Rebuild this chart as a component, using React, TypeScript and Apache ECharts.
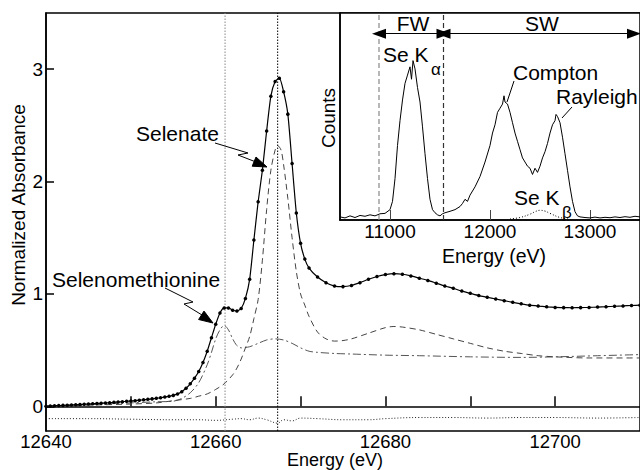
import React, { useEffect, useRef } from "react";
import * as echarts from "echarts";

const FONT = "'Liberation Sans', Arial, Helvetica, sans-serif";

// ---------- Main XANES panel ----------
const MAIN_E = [
  12640, 12640.5, 12641, 12641.5, 12642, 12642.5, 12643, 12643.5, 12644, 12644.5,
  12645, 12645.5, 12646, 12646.5, 12647, 12647.5, 12648, 12648.5, 12649, 12649.5,
  12650, 12650.5, 12651, 12651.5, 12652, 12652.5, 12653, 12653.5, 12654, 12654.5,
  12655, 12655.5, 12656, 12656.5, 12657, 12657.5, 12658, 12658.5, 12659, 12659.5,
  12660, 12660.5, 12661, 12661.5, 12662, 12662.5, 12663, 12663.5, 12664, 12664.5,
  12665, 12665.5, 12666, 12666.5, 12667, 12667.5, 12668, 12668.5, 12669, 12669.5,
  12670, 12670.5, 12671, 12672, 12673, 12674, 12675, 12676, 12677, 12678,
  12679, 12680, 12681, 12682, 12683, 12684, 12685, 12686, 12687, 12688,
  12689, 12690, 12691, 12692, 12693, 12694, 12695, 12696, 12697, 12698,
  12699, 12700, 12701, 12702, 12703, 12704, 12705, 12706, 12707, 12708,
  12709, 12710,
];
const MAIN_MU = [
  0.0, 0.002, 0.004, 0.006, 0.008, 0.01, 0.012, 0.014, 0.016, 0.018,
  0.02, 0.022, 0.025, 0.027, 0.03, 0.032, 0.035, 0.038, 0.041, 0.044,
  0.047, 0.05, 0.054, 0.058, 0.062, 0.066, 0.071, 0.076, 0.082, 0.089,
  0.097, 0.11, 0.13, 0.16, 0.2, 0.25, 0.31, 0.39, 0.49, 0.61,
  0.73, 0.83, 0.875, 0.875, 0.855, 0.848, 0.87, 0.96, 1.13, 1.48,
  1.82, 2.1, 2.45, 2.76, 2.89, 2.92, 2.8, 2.6, 2.16, 1.72,
  1.45, 1.31, 1.23, 1.15, 1.1, 1.07, 1.065, 1.075, 1.1, 1.13,
  1.155, 1.172, 1.18, 1.175, 1.16, 1.14, 1.12, 1.095, 1.07, 1.05,
  1.025, 1.005, 0.985, 0.97, 0.955, 0.94, 0.925, 0.912, 0.9, 0.892,
  0.885, 0.88, 0.878, 0.877, 0.878, 0.88, 0.883, 0.886, 0.89, 0.893,
  0.897, 0.9,
];

const SELENATE_E = [
  12640, 12645, 12650, 12653, 12655, 12657, 12658, 12659, 12660, 12661,
  12662, 12662.5, 12663, 12663.5, 12664, 12664.5, 12665, 12665.5, 12666, 12666.5,
  12667, 12667.3, 12667.7, 12668, 12668.5, 12669, 12669.5, 12670, 12670.5, 12671,
  12672, 12673, 12674, 12675, 12676, 12678, 12680, 12681, 12682, 12684,
  12686, 12688, 12690, 12692, 12694, 12696, 12698, 12700, 12704, 12710,
];
const SELENATE_MU = [
  0.0, 0.01, 0.02, 0.03, 0.05, 0.07, 0.09, 0.11, 0.15, 0.2,
  0.28, 0.34, 0.42, 0.52, 0.62, 0.78, 0.95, 1.3, 1.75, 2.1,
  2.28, 2.32, 2.28, 2.15, 1.85, 1.5, 1.2, 1.0, 0.9, 0.8,
  0.66, 0.6, 0.58, 0.585, 0.6, 0.65, 0.7, 0.71, 0.705, 0.68,
  0.64, 0.6, 0.56, 0.52, 0.49, 0.47, 0.45, 0.44, 0.43, 0.43,
];

const SEMET_E = [
  12640, 12645, 12650, 12653, 12655, 12656, 12657, 12658, 12659, 12659.5,
  12660, 12660.5, 12661, 12661.5, 12662, 12662.5, 12663, 12664, 12665, 12666,
  12667, 12668, 12669, 12670, 12671, 12672, 12674, 12676, 12680, 12684,
  12690, 12696, 12700, 12705, 12710,
];
const SEMET_MU = [
  0.0, 0.015, 0.03, 0.04, 0.045, 0.07, 0.12, 0.21, 0.37, 0.48,
  0.6, 0.68, 0.72, 0.68, 0.6, 0.54, 0.52, 0.53, 0.56, 0.59,
  0.6, 0.59, 0.56, 0.52, 0.49, 0.48, 0.47, 0.465, 0.455, 0.45,
  0.44, 0.435, 0.44, 0.45, 0.46,
];

const RESID_E = [
  12640, 12645, 12650, 12655, 12658, 12660, 12662, 12663, 12664, 12665,
  12666, 12667.3, 12668, 12669, 12670, 12672, 12675, 12678, 12680, 12684,
  12688, 12692, 12696, 12700, 12705, 12710,
];
const RESID_MU = [
  -0.11, -0.11, -0.115, -0.12, -0.12, -0.125, -0.115, -0.11, -0.12, -0.105,
  -0.12, -0.15, -0.12, -0.13, -0.105, -0.11, -0.12, -0.12, -0.11, -0.1,
  -0.1, -0.105, -0.1, -0.1, -0.105, -0.1,
];

const EDGE_LINES = [12661.1, 12667.3];
const MAIN_X_TICKS = [12650, 12660, 12670, 12680, 12690, 12700];
const MAIN_X_LABELS = [12640, 12660, 12680, 12700];
const MAIN_Y_TICKS = [0, 1, 2, 3];

// ---------- Inset fluorescence spectrum ----------
const INSET_E = [
  10500, 10550, 10600, 10650, 10700, 10750, 10800, 10850, 10900, 10950,
  11000, 11025, 11050, 11075, 11100, 11125, 11150, 11175, 11200, 11215,
  11230, 11250, 11275, 11300, 11325, 11350, 11375, 11400, 11425, 11450,
  11475, 11500, 11525, 11550, 11600, 11650, 11700, 11725, 11750, 11775,
  11800, 11850, 11900, 11950, 12000, 12025, 12050, 12075, 12100, 12125,
  12140, 12150, 12175, 12200, 12225, 12250, 12275, 12300, 12325, 12350,
  12375, 12400, 12425, 12450, 12475, 12500, 12525, 12550, 12575, 12600,
  12625, 12650, 12660, 12675, 12700, 12725, 12750, 12775, 12800, 12825,
  12850, 12875, 12900, 12950, 13000, 13050, 13100, 13150, 13200, 13250,
  13300, 13350, 13400, 13450, 13500,
];
const INSET_COUNTS = [
  1.5, 1.0, 2.0, 1.2, 2.2, 1.8, 2.5, 2.0, 3.0, 3.2,
  5.0, 9, 20, 36, 48, 58, 66, 70, 74, 68,
  77, 73, 64, 57, 45, 32, 20, 10, 5, 3.5,
  2.5, 2.0, 3.0, 3.5, 4.2, 5.0, 6.5, 8.0, 10, 9,
  12, 16, 21, 28, 36, 42, 46, 52, 54, 56,
  60, 57, 56, 52, 47, 42, 38, 34, 30, 28,
  26, 25, 22, 25, 23, 26, 30, 33, 37, 42,
  46, 48, 51, 50, 47, 40, 32, 24, 16, 9,
  4, 2, 1.5, 1.2, 1.0, 1.4, 1.0, 1.3, 1.1, 1.5,
  1.2, 1.6, 1.3, 1.8, 1.5,
];
const KBETA_E = [12200, 12300, 12400, 12450, 12500, 12550, 12600, 12700, 12800];
const KBETA_COUNTS = [0.5, 1.2, 2.8, 4.0, 4.7, 4.3, 3.2, 1.2, 0.4];
const WINDOW_EDGES = [10890, 11535];
const SW_END = 13440;
const ARROW_LEVEL = 90;
const INSET_TICKS = [11000, 12000, 13000];

const zip = (xs: number[], ys: number[]) => xs.map((x, i) => [x, ys[i]]);
const plain = (v: number) => String(v);

const txt = (text: string, x: number, y: number, size: number, extra: any = {}) => ({
  type: "text",
  z: 100,
  x,
  y,
  rotation: extra.rotation || 0,
  style: {
    text,
    x: 0,
    y: 0,
    fontSize: size,
    fontFamily: FONT,
    fill: "#000",
    align: extra.align || "left",
    verticalAlign: "middle",
  },
});

const seg = (pts: number[][], w = 1) => ({
  type: "polyline",
  z: 100,
  shape: { points: pts },
  style: { stroke: "#000", lineWidth: w, fill: "none" },
});
const tri = (pts: number[][]) => ({
  type: "polygon",
  z: 100,
  shape: { points: pts },
  style: { fill: "#000", stroke: "#000", lineWidth: 1 },
});

export default function App() {
  const ref = useRef<HTMLDivElement>(null);
  useEffect(() => {
    const chart = echarts.init(ref.current!, null, { renderer: "svg" });
    const axisText = { color: "#000", fontSize: 18.5, fontFamily: FONT, formatter: plain };
    const option: any = {
      animation: false,
      backgroundColor: "#fff",
      grid: [
        { left: 46, top: 13, width: 597, height: 418, show: true, borderColor: "#000", borderWidth: 1.5, backgroundColor: "transparent" },
        { left: 340, top: 13, width: 303, height: 207, show: true, borderColor: "#000", borderWidth: 1.5, backgroundColor: "#fff" },
      ],
      xAxis: [
        {
          type: "value", gridIndex: 0, min: 12640, max: 12710, interval: 10,
          axisLine: { lineStyle: { color: "#000", width: 1.5 } },
          axisTick: { inside: true, length: 10, customValues: MAIN_X_TICKS, lineStyle: { color: "#000", width: 1.5 } },
          axisLabel: { ...axisText, margin: 1, customValues: MAIN_X_LABELS },
          splitLine: { show: false },
        },
        {
          type: "value", gridIndex: 1, min: 10500, max: 13500,
          axisLine: { lineStyle: { color: "#000", width: 1.5 } },
          axisTick: { inside: true, length: 10, customValues: INSET_TICKS, lineStyle: { color: "#444", width: 1 } },
          axisLabel: { ...axisText, fontSize: 19, margin: 2, customValues: INSET_TICKS },
          splitLine: { show: false },
        },
      ],
      yAxis: [
        {
          type: "value", gridIndex: 0, min: -0.22, max: 3.5,
          axisLine: { lineStyle: { color: "#000", width: 1.5 } },
          axisTick: { inside: true, length: 8, customValues: MAIN_Y_TICKS, lineStyle: { color: "#000", width: 1.5 } },
          axisLabel: { ...axisText, fontSize: 19, margin: 3, customValues: MAIN_Y_TICKS },
          splitLine: { show: false },
        },
        {
          type: "value", gridIndex: 1, min: 0, max: 100,
          axisLine: { lineStyle: { color: "#000", width: 1.5 } },
          axisTick: { show: false },
          axisLabel: { show: false },
          splitLine: { show: false },
        },
      ],
      series: [
        {
          type: "line", xAxisIndex: 0, yAxisIndex: 0, data: zip(SEMET_E, SEMET_MU),
          symbol: "none", smooth: 0.3,
          lineStyle: { color: "#555", width: 1, type: [8, 3, 2, 3] },
        },
        {
          type: "line", xAxisIndex: 0, yAxisIndex: 0, data: zip(SELENATE_E, SELENATE_MU),
          symbol: "none", smooth: 0.3,
          lineStyle: { color: "#444", width: 1, type: [6, 4] },
        },
        {
          type: "line", xAxisIndex: 0, yAxisIndex: 0, data: zip(RESID_E, RESID_MU),
          symbol: "none", smooth: 0.4,
          lineStyle: { color: "#222", width: 1, type: [1, 2] },
        },
        {
          type: "line", xAxisIndex: 0, yAxisIndex: 0, data: [[EDGE_LINES[0], -0.22], [EDGE_LINES[0], 3.5]],
          symbol: "none", lineStyle: { color: "#888", width: 1, type: [1.5, 1.5] },
        },
        {
          type: "line", xAxisIndex: 0, yAxisIndex: 0, data: [[EDGE_LINES[1], -0.22], [EDGE_LINES[1], 3.5]],
          symbol: "none", lineStyle: { color: "#000", width: 1, type: [1.5, 1.5] },
        },
        {
          type: "line", xAxisIndex: 0, yAxisIndex: 0, data: zip(MAIN_E, MAIN_MU),
          symbol: "circle", symbolSize: 3.5, showAllSymbol: true, smooth: 0.2,
          itemStyle: { color: "#000" },
          lineStyle: { color: "#000", width: 1.2 },
        },
        {
          type: "line", xAxisIndex: 1, yAxisIndex: 1, data: zip(INSET_E, INSET_COUNTS),
          symbol: "none", lineStyle: { color: "#000", width: 1 },
        },
        {
          type: "line", xAxisIndex: 1, yAxisIndex: 1, data: zip(KBETA_E, KBETA_COUNTS),
          symbol: "none", smooth: 0.4, lineStyle: { color: "#000", width: 1, type: [1, 2] },
        },
        {
          type: "line", xAxisIndex: 1, yAxisIndex: 1, data: [[WINDOW_EDGES[0], 0], [WINDOW_EDGES[0], 100]],
          symbol: "none", lineStyle: { color: "#888", width: 1.2, type: [5, 3] },
        },
        {
          type: "line", xAxisIndex: 1, yAxisIndex: 1, data: [[WINDOW_EDGES[1], 0], [WINDOW_EDGES[1], 100]],
          symbol: "none", lineStyle: { color: "#333", width: 1.2, type: [5, 3] },
          markLine: {
            silent: true,
            symbol: ["triangle", "triangle"],
            symbolSize: [10, 14],
            label: { show: false },
            lineStyle: { color: "#000", width: 1, type: "solid" },
            itemStyle: { color: "#000" },
            data: [
              [{ coord: [WINDOW_EDGES[0], ARROW_LEVEL] }, { coord: [WINDOW_EDGES[1], ARROW_LEVEL] }],
              [{ coord: [WINDOW_EDGES[1], ARROW_LEVEL] }, { coord: [SW_END, ARROW_LEVEL] }],
            ],
          },
        },
      ],
      graphic: [
        txt("Normalized Absorbance", 18, 205, 19, { rotation: Math.PI / 2, align: "center" }),
        txt("Energy (eV)", 335, 459.5, 18, { align: "center" }),
        txt("Energy (eV)", 494, 256, 19.5, { align: "center" }),
        txt("Counts", 328, 118, 19, { rotation: Math.PI / 2, align: "center" }),
        txt("Selenate", 136, 133, 21),
        txt("Selenomethionine", 52, 279, 21),
        txt("FW", 413, 23, 21, { align: "center" }),
        txt("SW", 542, 23, 21, { align: "center" }),
        txt("Se K", 383, 54, 21),
        txt("α", 431, 69, 17),
        txt("Compton", 513, 72, 21),
        txt("Rayleigh", 556, 96, 21),
        txt("Se K", 514, 197, 21),
        txt("β", 562, 212, 17),
        seg([[514, 81], [507, 102]]),
        seg([[572, 107], [562, 118]]),
        seg([[215, 143], [248, 153], [238, 155], [256, 162]]),
        tri([[267, 167], [252.2, 166.2], [256.0, 157.0]]),
        seg([[165, 288], [193, 302], [184, 304], [202, 315]]),
        tri([[213, 323], [198.6, 319.5], [204.0, 311.1]]),
      ],
    };
    chart.setOption(option);
    return () => chart.dispose();
  }, []);
  return (
    <div
      ref={ref}
      style={{ position: "absolute", left: 0, top: 0, width: 640, height: 470, background: "#fff" }}
    />
  );
}
